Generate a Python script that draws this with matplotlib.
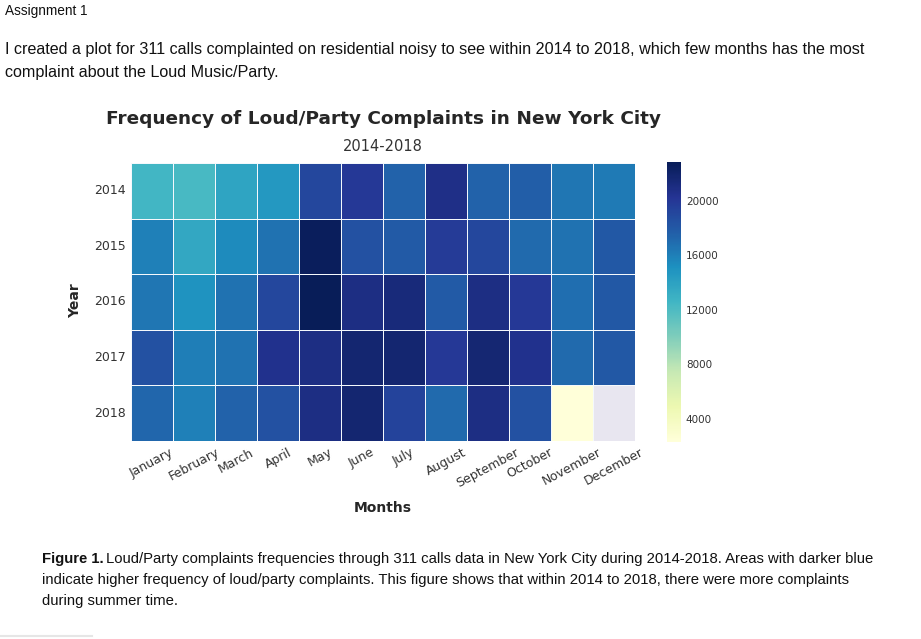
import numpy as np
import matplotlib
matplotlib.use("Agg")
import matplotlib.pyplot as plt
import seaborn as sns
from matplotlib.lines import Line2D

# data (Dec 2018 has no data)
years = ["2014", "2015", "2016", "2017", "2018"]
months = ["January", "February", "March", "April", "May", "June", "July",
          "August", "September", "October", "November", "December"]
c2014 = [12500, 12300, 13800, 14600, 19150, 20000, 17500, 20800, 17500, 17700, 16500, 16300]
c2015 = [16000, 13600, 15450, 16700, 22650, 18500, 17900, 19800, 19150, 17100, 16700, 18100]
c2016 = [16500, 15000, 16700, 19150, 22850, 21000, 21400, 17900, 21000, 20000, 16900, 18100]
c2017 = [18500, 16100, 16700, 20600, 21000, 21800, 21800, 20000, 21700, 20600, 17100, 18100]
c2018 = [17300, 16000, 17500, 18500, 21000, 21800, 19350, 17100, 21000, 18500, 2300, np.nan]
cbar_ticks = [4000, 8000, 12000, 16000, 20000]

counts = np.array([c2014, c2015, c2016, c2017, c2018], dtype=float)

fig = plt.figure(figsize=(9.21, 6.39), dpi=100)
fig.patch.set_facecolor("white")

doc_font = ["Liberation Sans", "DejaVu Sans"]
fig.text(0.005, 0.983, "Assignment 1", fontsize=9.8, family=doc_font, va="center", color="#111111")
fig.text(0.005, 0.923, "I created a plot for 311 calls complainted on residential noisy to see within 2014 to 2018, which few months has the most",
         fontsize=11.6, family=doc_font, va="center", color="#111111")
fig.text(0.005, 0.886, "complaint about the Loud Music/Party.", fontsize=11.6, family=doc_font, va="center", color="#111111")

ax = fig.add_axes([0.1422, 0.3099, 0.5472, 0.435])
cax = fig.add_axes([0.7242, 0.3088, 0.0152, 0.4372])
ax.set_facecolor("#E8E6F0")

sns.heatmap(counts, ax=ax, cbar_ax=cax, cmap="YlGnBu", linewidths=0.6, linecolor="#f4f8fc",
            xticklabels=months, yticklabels=years)

ax.tick_params(length=0, labelsize=9, labelcolor="#333333")
plt.setp(ax.get_xticklabels(), rotation=28, ha="center")
plt.setp(ax.get_yticklabels(), rotation=0)
ax.set_xlabel("")
ax.set_ylabel("")

cax.set_yticks(cbar_ticks)
cax.tick_params(length=0, labelsize=7.5, labelcolor="#333333")
for s in cax.spines.values():
    s.set_visible(False)

fig.text(0.416, 0.814, "Frequency of Loud/Party Complaints in New York City", fontsize=13.3,
         fontweight="bold", ha="center", va="center", color="#262626")
fig.text(0.416, 0.7715, "2014-2018", fontsize=10.5, ha="center", va="center", color="#333333")
fig.text(0.0814, 0.529, "Year", fontsize=10, fontweight="bold", rotation=90, ha="center", va="center", color="#262626")
fig.text(0.416, 0.205, "Months", fontsize=10, fontweight="bold", ha="center", va="center", color="#262626")

cap_lines = ["Loud/Party complaints frequencies through 311 calls data in New York City during 2014-2018. Areas with darker blue",
             "indicate higher frequency of loud/party complaints. This figure shows that within 2014 to 2018, there were more complaints",
             "during summer time."]
cap_size = 10.7
bold = fig.text(0.0456, 0.125, "Figure 1.", fontsize=cap_size, family=doc_font, fontweight="bold", va="center", color="#111111")
fig.canvas.draw()
bb = bold.get_window_extent().transformed(fig.transFigure.inverted())
fig.text(bb.x1 + 0.003, 0.125, cap_lines[0], fontsize=cap_size, family=doc_font, va="center", color="#111111")
fig.text(0.0456, 0.092, cap_lines[1], fontsize=cap_size, family=doc_font, va="center", color="#111111")
fig.text(0.0456, 0.0595, cap_lines[2], fontsize=cap_size, family=doc_font, va="center", color="#111111")

fig.add_artist(Line2D([0, 0.1], [0.004, 0.004], color="#e6e6e6", lw=1.5))

fig.savefig("out.png", dpi=100)
